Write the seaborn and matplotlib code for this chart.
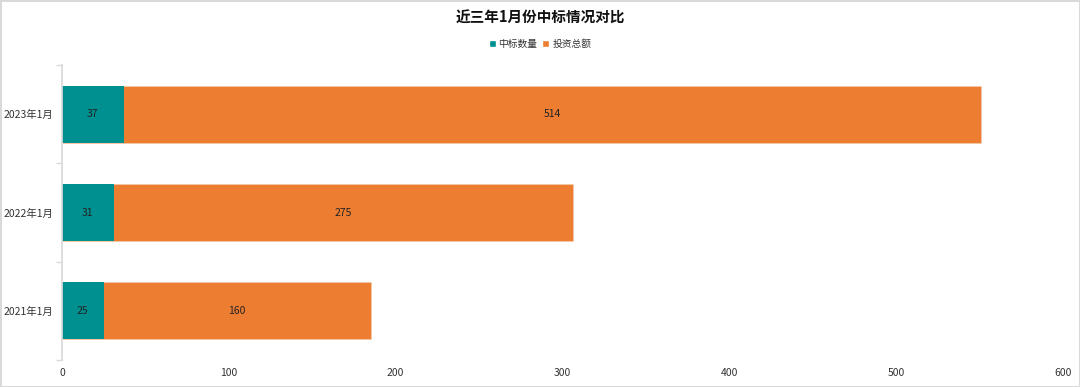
import matplotlib.pyplot as plt
import matplotlib.ticker as ticker
from matplotlib.patches import Patch
import seaborn as sns
import pandas as pd

months = ['2023年1月', '2022年1月', '2021年1月']
bid_count = [37, 31, 25]
invest_total = [514, 275, 160]

teal = '#00908F'
orange = '#ED7D31'


def main():
    sns.set_theme(style='white')
    plt.rcParams['font.family'] = ['Noto Sans CJK SC', 'DejaVu Sans']

    data = pd.DataFrame({'月份': months, '中标数量': bid_count, '投资总额': invest_total})
    data['合计'] = data['中标数量'] + data['投资总额']

    fig = plt.figure(figsize=(10.8, 3.87), dpi=100)
    fig.patch.set_edgecolor('#d9d9d9')
    fig.patch.set_linewidth(2)
    ax = fig.add_axes([62 / 1080, 27 / 387, 1001 / 1080, 295 / 387])

    # stacked: total first (orange), then count over it (teal)
    sns.barplot(data=data, y='月份', x='合计', color=orange, orient='h',
                width=0.58, saturation=1, linewidth=0.5, edgecolor='#f3c9a8', ax=ax)
    sns.barplot(data=data, y='月份', x='中标数量', color=teal, orient='h',
                width=0.58, saturation=1, linewidth=0, ax=ax)

    for i, row in data.iterrows():
        ax.text(row['中标数量'] / 2, i, str(row['中标数量']), ha='center', va='center',
                fontsize=7.5, color='#222222')
        ax.text(row['中标数量'] + row['投资总额'] / 2, i, str(row['投资总额']),
                ha='center', va='center', fontsize=7.5, color='#222222')

    ax.set_xlim(0, 600)
    ax.set_ylim(2.5, -0.5)
    ax.xaxis.set_major_locator(ticker.MultipleLocator(100))
    ax.set_xlabel('')
    ax.set_ylabel('')
    ax.tick_params(axis='x', labelsize=7.5, length=0, pad=6, colors='#333333')
    ax.tick_params(axis='y', which='major', labelsize=7.5, length=0, pad=6, colors='#333333')
    ax.yaxis.set_minor_locator(ticker.FixedLocator([-0.5, 0.5, 1.5, 2.5]))
    ax.tick_params(axis='y', which='minor', length=4, width=1, color='#d9d9d9', left=True)

    for side in ['top', 'right', 'bottom']:
        ax.spines[side].set_visible(False)
    ax.spines['left'].set_color('#d9d9d9')

    fig.text(0.5, 1 - 18 / 387, '近三年1月份中标情况对比', ha='center', va='center',
             fontsize=10.5, fontweight='bold', color='#111111')
    handles = [Patch(facecolor=teal, label='中标数量'), Patch(facecolor=orange, label='投资总额')]
    fig.legend(handles=handles, loc='center', bbox_to_anchor=(0.5, 1 - 44 / 387), ncol=2,
               frameon=False, fontsize=7, handlelength=0.7, handleheight=0.7,
               handletextpad=0.3, columnspacing=0.5, labelcolor='#333333')

    plt.savefig('out.png', dpi=100)


if __name__ == "__main__":
    main()
